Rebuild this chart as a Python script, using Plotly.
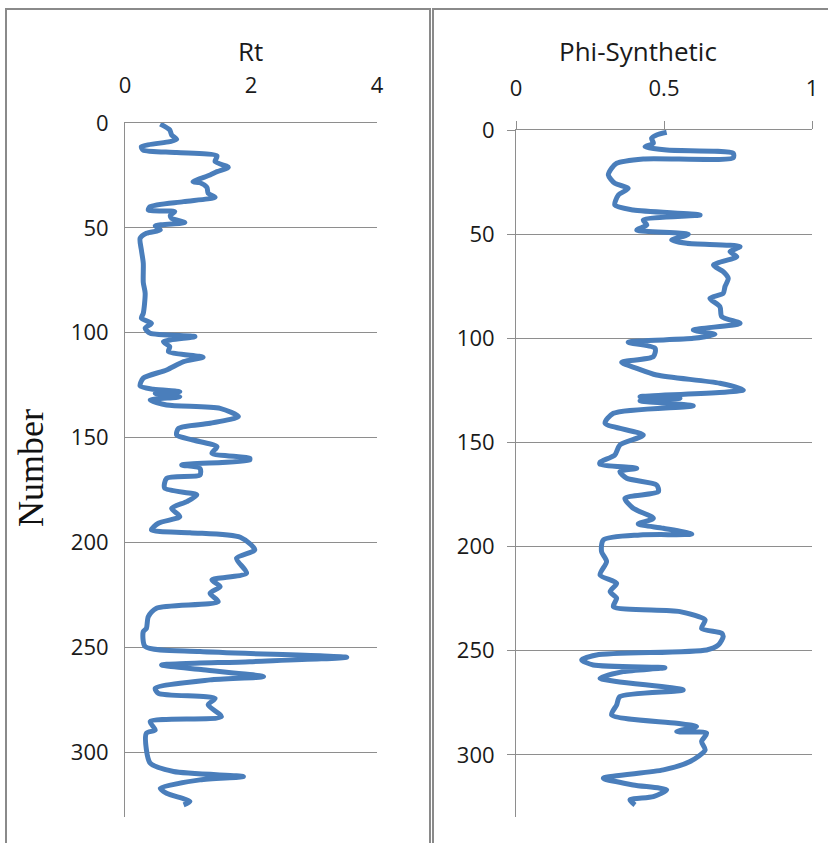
import plotly.graph_objects as go

W, H = 828, 843

# ---- data ----
rt_depth = [0.5, 3.3, 5.7, 7.8, 8.9, 11.3, 12.9, 14.1, 15.7, 18.4, 21.1, 23.2, 24.8, 28, 28.5, 30.7, 33.5, 35.4,
            37.5, 39.9, 41.5, 42.3, 44, 45.5, 47.5, 49.1, 51, 52.6, 55, 60.6, 66.8, 76, 81.2, 90.8, 93.1, 95.5,
            97.9, 100.3, 101.9, 104.3, 106.7, 109, 111.7, 113.8, 117.8, 121.7, 125.4, 127, 128.1, 129, 130.6,
            132.1, 134.5, 136.1, 140, 143.2, 145.6, 148.8, 151.2, 154.4, 157.5, 159.9, 160.7, 163.1, 164.7,
            167.9, 169.5, 174.2, 177.4, 180.6, 183.8, 187.7, 190.9, 194.1, 195.4, 197.6, 203.6, 207.6, 214.7,
            217.9, 221.1, 224.3, 228.3, 231.4, 235.4, 241, 242.6, 249.7, 252.1, 254.8, 256.9, 258.5, 260.8,
            264, 265.6, 269.6, 272, 274.4, 277.5, 283.1, 285.5, 289.5, 291, 299, 305.3, 309.3, 311.7, 313.3,
            317.3, 319.7, 323.6, 325.2]
rt_values = [0.56, 0.71, 0.74, 0.82, 0.71, 0.26, 0.29, 0.82, 1.46, 1.43, 1.64, 1.46, 1.35, 1.08, 1.19, 1.30, 1.32,
             1.43, 0.93, 0.40, 0.37, 0.79, 0.72, 0.74, 0.95, 0.48, 0.56, 0.34, 0.24, 0.26, 0.29, 0.29, 0.32,
             0.29, 0.26, 0.42, 0.32, 0.40, 1.11, 0.61, 0.71, 0.69, 1.24, 0.93, 0.66, 0.29, 0.24, 0.45, 0.87,
             0.48, 0.87, 0.40, 0.66, 1.51, 1.80, 1.35, 0.85, 0.82, 1.08, 1.46, 1.38, 1.98, 1.98, 0.90, 1.19,
             1.19, 0.66, 0.63, 1.14, 0.98, 0.74, 0.87, 0.53, 0.42, 1.03, 1.83, 2.06, 1.77, 1.93, 1.38, 1.51,
             1.35, 1.48, 0.50, 0.37, 0.34, 0.29, 0.32, 1.19, 3.52, 1.98, 0.58, 1.24, 2.20, 1.35, 0.48, 0.53,
             1.43, 1.32, 1.53, 0.40, 0.48, 0.34, 0.34, 0.40, 0.77, 1.88, 1.19, 0.56, 0.66, 1.03, 0.93]

phi_depth = [1.1, 2.4, 4, 6.4, 8, 9.6, 11.2, 13.3, 13.9, 16, 18.4, 21.6, 25.6, 28, 31.2, 36, 38.4, 40.8, 43.2,
             45.6, 48, 50.1, 52.8, 54.4, 56, 58.4, 60.8, 64.8, 68, 71.2, 75.2, 78.4, 80.8, 84.8, 89.6, 92.8,
             96, 98.1, 100, 101.9, 104.8, 108.8, 111.5, 114.4, 117.6, 121.6, 124.8, 128, 128.8, 130, 132.4,
             136, 140.8, 146.4, 151.2, 156, 159.5, 160.5, 162.4, 164, 167.2, 170.4, 173.6, 176.8, 181.6,
             186.4, 189.1, 191.2, 194, 194.4, 196.8, 202.4, 207.2, 213.6, 217.6, 221.6, 224.8, 228.8, 231.2,
             235.2, 239.2, 241.6, 243.2, 247.2, 249.6, 252, 254.4, 256.8, 258.1, 260, 263.2, 268.8, 272, 276,
             280.8, 284.8, 286.4, 288.8, 289.6, 293.6, 297.6, 303.2, 307.2, 311.2, 314.4, 316.8, 320, 321.6, 324]
phi_values = [0.509, 0.475, 0.458, 0.464, 0.436, 0.509, 0.734, 0.734, 0.430, 0.340, 0.323, 0.312, 0.334, 0.379,
              0.346, 0.334, 0.396, 0.622, 0.430, 0.442, 0.408, 0.582, 0.526, 0.577, 0.757, 0.723, 0.746, 0.667,
              0.700, 0.717, 0.706, 0.700, 0.655, 0.689, 0.695, 0.757, 0.599, 0.672, 0.599, 0.379, 0.470, 0.464,
              0.357, 0.408, 0.475, 0.689, 0.768, 0.419, 0.554, 0.419, 0.599, 0.329, 0.301, 0.430, 0.351, 0.334,
              0.284, 0.284, 0.408, 0.351, 0.374, 0.475, 0.481, 0.368, 0.396, 0.464, 0.413, 0.498, 0.594, 0.419,
              0.295, 0.289, 0.306, 0.284, 0.340, 0.318, 0.340, 0.329, 0.554, 0.639, 0.627, 0.695, 0.700, 0.684,
              0.644, 0.272, 0.222, 0.261, 0.503, 0.362, 0.284, 0.565, 0.351, 0.340, 0.323, 0.543, 0.610, 0.543,
              0.644, 0.627, 0.639, 0.588, 0.498, 0.295, 0.396, 0.509, 0.464, 0.385, 0.402]

depth_ticks = [0, 50, 100, 150, 200, 250, 300]
rt_ticks = [0, 2, 4]
phi_ticks = [0, 0.5, 1]
rt_title = "Rt"
phi_title = "Phi-Synthetic"
depth_title = "Number"

# ---- styling ----
BLUE = "#4A7EBB"
GRID = "#8E8E8E"
TICKFONT = dict(family="Open Sans", size=22, color="#1a1a1a")
TITLEFONT = dict(family="Open Sans", size=26, color="#1a1a1a")


def px(x):
    return x / W


def py(y):
    return 1 - y / H


fig = go.Figure()
fig.add_trace(go.Scatter(x=rt_values, y=rt_depth, mode="lines", xaxis="x", yaxis="y",
                         line=dict(color=BLUE, width=5, shape="spline", smoothing=0.7), showlegend=False))
fig.add_trace(go.Scatter(x=phi_values, y=phi_depth, mode="lines", xaxis="x2", yaxis="y2",
                         line=dict(color=BLUE, width=5, shape="spline", smoothing=0.7), showlegend=False))

common_y = dict(tickvals=depth_ticks, showgrid=True, gridcolor=GRID, gridwidth=1, zeroline=False,
                showline=True, linecolor=GRID, linewidth=1, tickfont=TICKFONT, automargin=False)
common_x = dict(side="top", showgrid=False, zeroline=False, showline=True, linecolor=GRID, linewidth=1,
                tickfont=TICKFONT, automargin=False)

fig.update_layout(
    width=W, height=H, autosize=False,
    margin=dict(l=0, r=0, t=0, b=0, pad=0),
    paper_bgcolor="white", plot_bgcolor="white",
    xaxis=dict(**common_x, domain=[px(125), px(377)], range=[0, 4], tickvals=rt_ticks,
               anchor="y", ticks="", ticklabelstandoff=20),
    yaxis=dict(**common_y, domain=[py(817), py(123)], range=[331, 0], anchor="x",
               ticks="", ticklabelstandoff=11),
    xaxis2=dict(**common_x, domain=[px(516), px(812)], range=[0, 1], tickvals=phi_ticks,
                anchor="y2", ticks="outside", ticklen=8, tickcolor=GRID, ticklabelstandoff=16),
    yaxis2=dict(**common_y, domain=[py(817), py(130)], range=[329.8, 0], anchor="x2",
                ticks="outside", ticklen=8, tickcolor=GRID, ticklabelstandoff=8),
    annotations=[
        dict(text=rt_title, x=px(250), y=py(51), xref="paper", yref="paper", showarrow=False,
             font=TITLEFONT, xanchor="center", yanchor="middle"),
        dict(text=phi_title, x=px(638), y=py(51), xref="paper", yref="paper", showarrow=False,
             font=TITLEFONT, xanchor="center", yanchor="middle"),
        dict(text=depth_title, x=px(31), y=py(468), xref="paper", yref="paper", showarrow=False,
             textangle=-90, font=dict(family="Liberation Serif", size=36, color="#111111"),
             xanchor="center", yanchor="middle"),
    ],
    shapes=[
        dict(type="rect", xref="paper", yref="paper", x0=px(6), x1=px(430), y0=py(880), y1=py(9),
             line=dict(color="#8a8a8a", width=2)),
        dict(type="rect", xref="paper", yref="paper", x0=px(433), x1=px(880), y0=py(880), y1=py(9),
             line=dict(color="#8a8a8a", width=2)),
    ],
)

fig.write_html("out.html", config={"displayModeBar": False},
               post_script="document.body.style.margin='0px';document.body.style.overflow='hidden';")
